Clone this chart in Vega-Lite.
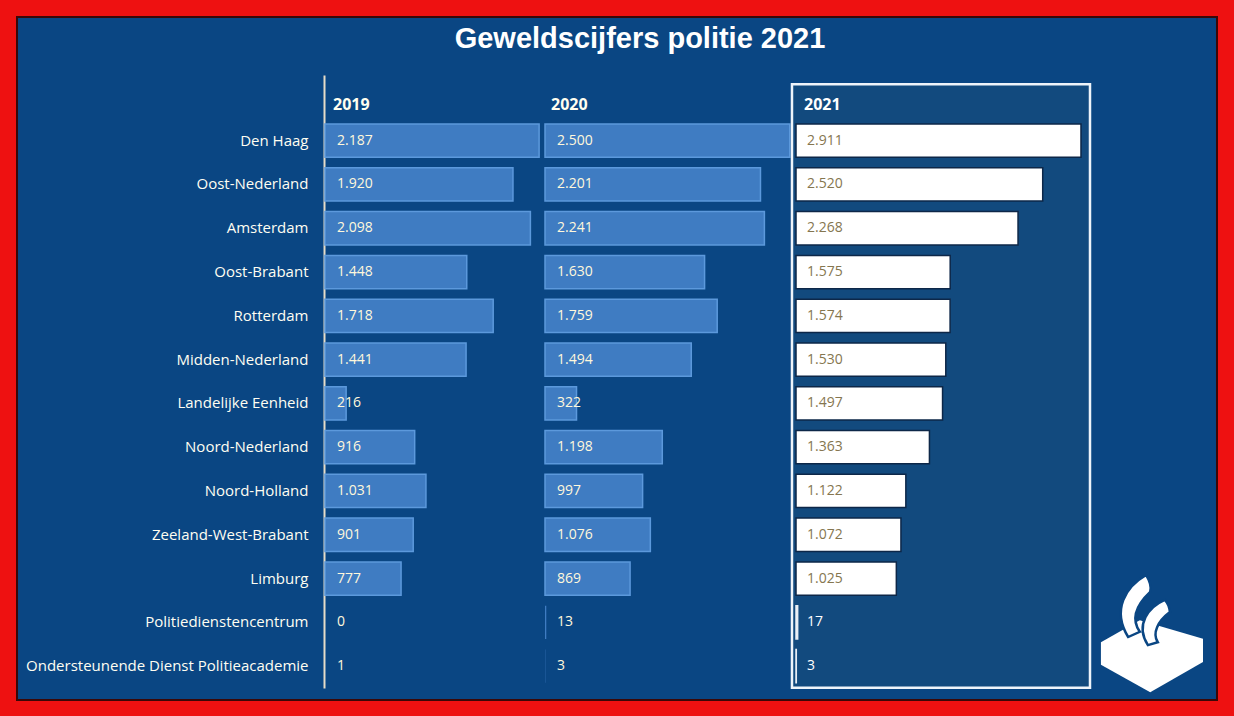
{
  "$schema": "https://vega.github.io/schema/vega-lite/v6.json",
  "width": 1234,
  "height": 716,
  "autosize": {"type": "fit", "contains": "padding"},
  "padding": {"left": 17, "top": 17, "right": 17, "bottom": 16},
  "background": "#ee1111",
  "config": {
    "view": {"fill": "#0a4683", "stroke": "#3a0808", "strokeWidth": 2},
    "locale": {"number": {"decimal": ",", "thousands": ".", "grouping": [3], "currency": ["€", ""]}},
    "font": "Open Sans"
  },
  "title": {
    "text": "Geweldscijfers politie 2021",
    "color": "#ffffff",
    "fontSize": 29,
    "font": "Liberation Sans",
    "fontWeight": "bold",
    "anchor": "middle",
    "frame": "group",
    "offset": -37,
    "dx": 23
  },
  "data": {
    "values": [
      {"region": "Den Haag", "y2019": 2187, "y2020": 2500, "y2021": 2911},
      {"region": "Oost-Nederland", "y2019": 1920, "y2020": 2201, "y2021": 2520},
      {"region": "Amsterdam", "y2019": 2098, "y2020": 2241, "y2021": 2268},
      {"region": "Oost-Brabant", "y2019": 1448, "y2020": 1630, "y2021": 1575},
      {"region": "Rotterdam", "y2019": 1718, "y2020": 1759, "y2021": 1574},
      {"region": "Midden-Nederland", "y2019": 1441, "y2020": 1494, "y2021": 1530},
      {"region": "Landelijke Eenheid", "y2019": 216, "y2020": 322, "y2021": 1497},
      {"region": "Noord-Nederland", "y2019": 916, "y2020": 1198, "y2021": 1363},
      {"region": "Noord-Holland", "y2019": 1031, "y2020": 997, "y2021": 1122},
      {"region": "Zeeland-West-Brabant", "y2019": 901, "y2020": 1076, "y2021": 1072},
      {"region": "Limburg", "y2019": 777, "y2020": 869, "y2021": 1025},
      {"region": "Politiedienstencentrum", "y2019": 0, "y2020": 13, "y2021": 17},
      {"region": "Ondersteunende Dienst Politieacademie", "y2019": 1, "y2020": 3, "y2021": 3}
    ]
  },
  "resolve": {"scale": {"x": "independent"}},
  "layer": [
    {
      "encoding": {
        "y": {
          "field": "region",
          "type": "nominal",
          "scale": {
            "domain": [" ", "Den Haag", "Oost-Nederland", "Amsterdam", "Oost-Brabant", "Rotterdam", "Midden-Nederland", "Landelijke Eenheid", "Noord-Nederland", "Noord-Holland", "Zeeland-West-Brabant", "Limburg", "Politiedienstencentrum", "Ondersteunende Dienst Politieacademie"],
            "range": [58, 671],
            "paddingInner": 0.24,
            "paddingOuter": 0.12
          },
          "axis": {
            "title": null,
            "orient": "left",
            "offset": -307,
            "ticks": false,
            "grid": false,
            "labelPadding": 16,
            "labelFontSize": 15,
            "labelFont": "Open Sans",
            "labelColor": "#fffef2",
            "labelLimit": 400,
            "domainColor": "#e6dcc8",
            "domainWidth": 2
          }
        },
        "x": {
          "field": "y2019",
          "type": "quantitative",
          "scale": {"domain": [0, 2500], "range": [308, 552.75], "nice": false},
          "axis": null
        }
      },
      "layer": [
        {
          "mark": {"type": "bar", "fill": "#3f7cc2", "stroke": "#5c99dc"},
          "encoding": {
            "strokeWidth": {"condition": {"test": "datum.y2019 < 50", "value": 0}, "value": 1.5}
          }
        },
        {
          "mark": {"type": "text", "align": "left", "dx": 12, "fontSize": 14, "color": "#fff8dc"},
          "encoding": {
            "x": {"datum": 0, "type": "quantitative"},
            "text": {"field": "y2019", "type": "quantitative", "format": ",d"}
          }
        },
        {
          "transform": [{"filter": "datum.region == 'Den Haag'"}],
          "mark": {"type": "text", "align": "left", "dx": 8, "dy": 8, "fontSize": 16, "fontWeight": "bold", "color": "#fffef0"},
          "encoding": {
            "x": {"datum": 0, "type": "quantitative"},
            "y": {"datum": " ", "type": "nominal"},
            "text": {"value": "2019"}
          }
        }
      ]
    },
    {
      "encoding": {
        "y": {"field": "region", "type": "nominal"},
        "x": {
          "field": "y2020",
          "type": "quantitative",
          "scale": {"domain": [0, 2500], "range": [528, 772.75], "nice": false},
          "axis": null
        }
      },
      "layer": [
        {
          "mark": {"type": "bar", "fill": "#3f7cc2", "stroke": "#5c99dc"},
          "encoding": {
            "strokeWidth": {"condition": {"test": "datum.y2020 < 50", "value": 0}, "value": 1.5}
          }
        },
        {
          "mark": {"type": "text", "align": "left", "dx": 12, "fontSize": 14, "color": "#fff8dc"},
          "encoding": {
            "x": {"datum": 0, "type": "quantitative"},
            "text": {"field": "y2020", "type": "quantitative", "format": ",d"}
          }
        },
        {
          "transform": [{"filter": "datum.region == 'Den Haag'"}],
          "mark": {"type": "text", "align": "left", "dx": 6, "dy": 8, "fontSize": 16, "fontWeight": "bold", "color": "#fffef0"},
          "encoding": {
            "x": {"datum": 0, "type": "quantitative"},
            "y": {"datum": " ", "type": "nominal"},
            "text": {"value": "2020"}
          }
        }
      ]
    },
    {
      "encoding": {
        "y": {"field": "region", "type": "nominal"},
        "x": {
          "field": "y2021",
          "type": "quantitative",
          "scale": {"domain": [0, 3000], "range": [779, 1072.7], "nice": false},
          "axis": null
        }
      },
      "layer": [
        {
          "transform": [{"filter": "datum.region == 'Den Haag'"}],
          "mark": {"type": "rect", "fill": "#124a7e", "stroke": "#eef4fa", "strokeWidth": 2.5},
          "encoding": {
            "x": {"datum": -41, "type": "quantitative"},
            "x2": {"datum": 3003},
            "y": {"datum": " ", "type": "nominal", "bandPosition": 0.12},
            "y2": {"datum": "Ondersteunende Dienst Politieacademie", "bandPosition": 1.15}
          }
        },
        {
          "mark": {"type": "bar", "fill": "#ffffff", "strokeWidth": 1.5},
          "encoding": {
            "stroke": {"condition": {"test": "datum.y2021 < 100", "value": "#e8eef5"}, "value": "#0d2748"}
          }
        },
        {
          "mark": {"type": "text", "align": "left", "dx": 11, "fontSize": 14},
          "encoding": {
            "x": {"datum": 0, "type": "quantitative"},
            "text": {"field": "y2021", "type": "quantitative", "format": ",d"},
            "color": {"condition": {"test": "datum.y2021 < 100", "value": "#ffffff"}, "value": "#857650"}
          }
        },
        {
          "transform": [{"filter": "datum.region == 'Den Haag'"}],
          "mark": {"type": "text", "align": "left", "dx": 8, "dy": 8, "fontSize": 16, "fontWeight": "bold", "color": "#ffffff"},
          "encoding": {
            "x": {"datum": 0, "type": "quantitative"},
            "y": {"datum": " ", "type": "nominal"},
            "text": {"value": "2021"}
          }
        },
        {
          "transform": [{"filter": "datum.region == 'Den Haag'"}],
          "mark": {
            "type": "point",
            "filled": true,
            "fill": "#ffffff",
            "opacity": 1,
            "size": 13456,
            "shape": "M-0.88,0.16 L-0.21,-0.22 L0.88,0.1 L0.88,0.5 L-0.03,1.02 L-0.88,0.55 Z"
          },
          "encoding": {
            "x": {"datum": 3636, "type": "quantitative"},
            "y": {"datum": "Politiedienstencentrum", "type": "nominal", "bandPosition": 0.82}
          }
        },
        {
          "transform": [{"filter": "datum.region == 'Den Haag'"}],
          "mark": {
            "type": "point",
            "filled": true,
            "fill": "#ffffff",
            "stroke": "#0a4683",
            "strokeWidth": 2.5,
            "opacity": 1,
            "size": 13456,
            "shape": "M-0.1,-1 C-0.45,-0.8 -0.7,-0.4 -0.41,0.07 L-0.21,-0.02 C-0.4,-0.3 -0.2,-0.55 -0.03,-0.71 C0,-0.82 -0.05,-0.92 -0.1,-1 Z M0.22,-0.57 C-0.05,-0.45 -0.3,-0.15 -0.07,0.21 L0.1,0.16 C0,0 0.1,-0.2 0.31,-0.36 C0.3,-0.45 0.27,-0.52 0.22,-0.57 Z"
          },
          "encoding": {
            "x": {"datum": 3636, "type": "quantitative"},
            "y": {"datum": "Politiedienstencentrum", "type": "nominal", "bandPosition": 0.82}
          }
        }
      ]
    }
  ]
}
